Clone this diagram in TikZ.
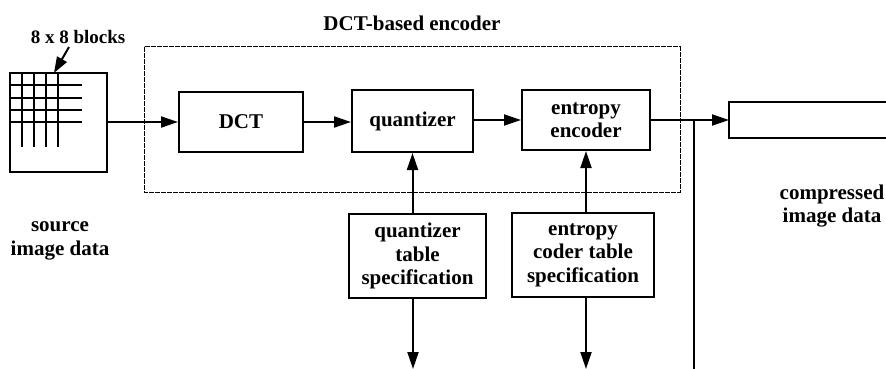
\documentclass[tikz,border=0pt]{standalone}
\usepackage{fontspec}
\setmainfont{Liberation Serif}
\usetikzlibrary{arrows.meta}
\begin{document}
\begin{tikzpicture}[x=1pt,y=-1pt,
  lbl/.style={font=\bfseries\fontsize{21}{23.5}\selectfont, align=center, inner sep=0pt},
  blk/.style={lbl, draw, line width=2pt, rectangle},
  wire/.style={line width=2pt},
  arr/.style={wire, -{Triangle[length=17pt,width=11pt]}},
  encbox/.style={draw, line width=1pt, dash pattern=on 5pt off 1pt}
]
\useasboundingbox (0,0) rectangle (886,369);

% encoder frame
\draw[encbox] (144,47) rectangle (680,192);
\node[lbl] (title) at (412,23) {DCT-based encoder};

% source image with its 8x8 block grid
\node[blk, minimum width=97pt, minimum height=99pt] (src) at (58.5,122.5) {};
\foreach \gx in {22,34,46,58} \draw[wire] (\gx,73) -- (\gx,147);
\foreach \gy in {85,98,110,122} \draw[wire] (10,\gy) -- (82,\gy);
\node[lbl, font=\bfseries\fontsize{19}{20}\selectfont] (blocks) at (78,37) {8 x 8 blocks};
\coordinate (blkfrom) at (69,47);
\coordinate (blkto) at (54,73);
\draw[wire, -{Triangle[length=16pt,width=11pt]}] (blkfrom) -- (blkto);
\node[lbl] (srclbl) at (60,241) {source\\image data};

% processing stages
\node[blk, minimum width=124pt, minimum height=60pt] (dct) at (241,122) {DCT};
\node[blk, minimum width=121pt, minimum height=62pt] (quant) at (412.5,121) {quantizer};
\node[blk, minimum width=128pt, minimum height=60pt] (ent) at (586,120) {entropy\\encoder};

% table specifications
\node[blk, minimum width=137pt, minimum height=84pt] (qtab) at (417.5,256) {quantizer\\table\\specification};
\node[blk, minimum width=142pt, minimum height=84pt] (etab) at (583,255) {entropy\\coder table\\specification};

% compressed output (open on the right)
\coordinate (cin) at (729,120);
\draw[wire] (886,102) -- (729,102) -- (729,138) -- (886,138);
\node[lbl] (cmplbl) at (832,206) {compressed\\image data};

% data flow
\draw[arr] (src.east |- dct.west) -- (dct.west);
\draw[arr] (dct.east) -- (dct.east -| quant.west);
\draw[arr] (quant.east |- ent.west) -- (ent.west);
\draw[arr] (ent.east) -- (cin);
\coordinate (j) at (694,120);
\coordinate (jb) at (694,369);
\draw[wire] (j) -- (jb);

% table connections
\draw[arr] (quant.south |- qtab.north) -- (quant.south);
\draw[arr] (ent.south |- etab.north) -- (ent.south);
\coordinate (qb) at (413,369);
\coordinate (eb) at (586,369);
\draw[arr] (qtab.south -| qb) -- (qb);
\draw[arr] (etab.south -| eb) -- (eb);
\end{tikzpicture}
\end{document}
